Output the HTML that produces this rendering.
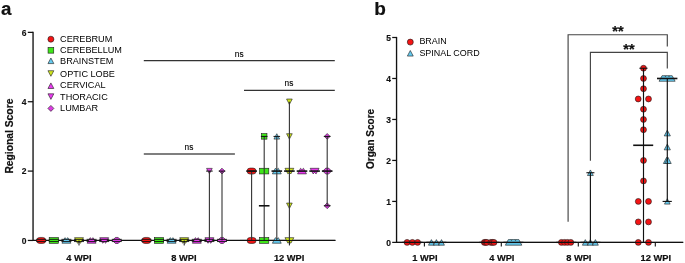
<!DOCTYPE html>
<html><head><meta charset="utf-8"><style>
html,body{margin:0;padding:0;background:#fff;}
svg{display:block;will-change:transform;}
text{font-family:"Liberation Sans", sans-serif;}
</style></head><body>
<svg width="685" height="263" viewBox="0 0 685 263">
<rect width="685" height="263" fill="#fff"/>
<text x="0.96" y="14.60" font-size="18.7" font-weight="bold" text-anchor="start" fill="#111"  stroke="#000" stroke-width="0.18">a</text>
<text x="374.20" y="14.70" font-size="19" font-weight="bold" text-anchor="start" fill="#111"  stroke="#000" stroke-width="0.18">b</text>
<line x1="33.05" y1="31.77" x2="33.05" y2="241.05" stroke="#111" stroke-width="1.35"/>
<line x1="27.80" y1="240.45" x2="33.05" y2="240.45" stroke="#111" stroke-width="1.25"/>
<text transform="translate(26.50,243.75) scale(0.86,1)" x="0" y="0" font-size="9.9" font-weight="bold" text-anchor="end" fill="#111" stroke="#000" stroke-width="0.15">0</text>
<line x1="27.80" y1="171.09" x2="33.05" y2="171.09" stroke="#111" stroke-width="1.25"/>
<text transform="translate(26.50,174.39) scale(0.86,1)" x="0" y="0" font-size="9.9" font-weight="bold" text-anchor="end" fill="#111" stroke="#000" stroke-width="0.15">2</text>
<line x1="27.80" y1="101.73" x2="33.05" y2="101.73" stroke="#111" stroke-width="1.25"/>
<text transform="translate(26.50,105.03) scale(0.86,1)" x="0" y="0" font-size="9.9" font-weight="bold" text-anchor="end" fill="#111" stroke="#000" stroke-width="0.15">4</text>
<line x1="27.80" y1="32.37" x2="33.05" y2="32.37" stroke="#111" stroke-width="1.25"/>
<text transform="translate(26.50,35.67) scale(0.86,1)" x="0" y="0" font-size="9.9" font-weight="bold" text-anchor="end" fill="#111" stroke="#000" stroke-width="0.15">6</text>
<line x1="33.05" y1="240.45" x2="335.40" y2="240.45" stroke="#111" stroke-width="1.3"/>
<text x="0.00" y="0.00" font-size="10.3" font-weight="bold" text-anchor="middle" fill="#111" transform="translate(13.1,136.1) rotate(-90)" stroke="#000" stroke-width="0.18">Regional Score</text>
<text x="78.90" y="261.30" font-size="9.3" font-weight="bold" text-anchor="middle" fill="#111"  stroke="#000" stroke-width="0.18">4 WPI</text>
<text x="183.90" y="261.30" font-size="9.3" font-weight="bold" text-anchor="middle" fill="#111"  stroke="#000" stroke-width="0.18">8 WPI</text>
<text x="289.15" y="261.30" font-size="9.3" font-weight="bold" text-anchor="middle" fill="#111"  stroke="#000" stroke-width="0.18">12 WPI</text>
<line x1="143.80" y1="60.70" x2="334.80" y2="60.70" stroke="#333" stroke-width="1.25"/>
<text x="239.20" y="56.80" font-size="8.3" font-weight="normal" text-anchor="middle" fill="#000" stroke="#000" stroke-width="0.12">ns</text>
<line x1="244.00" y1="90.40" x2="334.80" y2="90.40" stroke="#333" stroke-width="1.25"/>
<text x="289.00" y="86.10" font-size="8.3" font-weight="normal" text-anchor="middle" fill="#000" stroke="#000" stroke-width="0.12">ns</text>
<line x1="143.80" y1="154.00" x2="234.90" y2="154.00" stroke="#555" stroke-width="1.3"/>
<text x="189.00" y="149.80" font-size="8.3" font-weight="normal" text-anchor="middle" fill="#000" stroke="#000" stroke-width="0.12">ns</text>
<rect x="36.70" y="237.45" width="9" height="6" rx="3" ry="3" fill="#f41414" stroke="#1a1a1a" stroke-width="0.6"/>
<line x1="36.20" y1="239.35" x2="46.20" y2="239.35" stroke="#111" stroke-width="0.9"/>
<line x1="36.20" y1="241.55" x2="46.20" y2="241.55" stroke="#111" stroke-width="0.9"/>
<rect x="49.20" y="237.60" width="9.2" height="5.7" fill="#3fe619" stroke="#1a1a1a" stroke-width="0.6"/>
<line x1="48.80" y1="239.35" x2="58.80" y2="239.35" stroke="#111" stroke-width="0.9"/>
<line x1="48.80" y1="241.55" x2="58.80" y2="241.55" stroke="#111" stroke-width="0.9"/>
<polygon points="61.96,243.24 64.90,237.66 66.40,239.08 67.90,237.66 70.84,243.24" fill="#66cbf0" stroke="#1a1a1a" stroke-width="0.6" stroke-linejoin="round"/>
<line x1="61.40" y1="239.35" x2="71.40" y2="239.35" stroke="#111" stroke-width="0.9"/>
<line x1="61.40" y1="241.55" x2="71.40" y2="241.55" stroke="#111" stroke-width="0.9"/>
<polygon points="74.56,237.66 83.44,237.66 80.50,243.24 79.00,241.82 77.50,243.24" fill="#cfe61e" stroke="#1a1a1a" stroke-width="0.6" stroke-linejoin="round"/>
<line x1="79.00" y1="240.45" x2="79.00" y2="245.45" stroke="#111" stroke-width="1.0"/>
<line x1="74.00" y1="239.35" x2="84.00" y2="239.35" stroke="#111" stroke-width="0.9"/>
<line x1="74.00" y1="241.55" x2="84.00" y2="241.55" stroke="#111" stroke-width="0.9"/>
<polygon points="87.16,243.24 90.10,237.66 91.60,239.08 93.10,237.66 96.04,243.24" fill="#ea3cf0" stroke="#1a1a1a" stroke-width="0.6" stroke-linejoin="round"/>
<line x1="86.60" y1="239.35" x2="96.60" y2="239.35" stroke="#111" stroke-width="0.9"/>
<line x1="86.60" y1="241.55" x2="96.60" y2="241.55" stroke="#111" stroke-width="0.9"/>
<polygon points="99.76,237.66 108.64,237.66 105.70,243.24 104.20,241.82 102.70,243.24" fill="#ea3cf0" stroke="#1a1a1a" stroke-width="0.6" stroke-linejoin="round"/>
<line x1="99.20" y1="239.35" x2="109.20" y2="239.35" stroke="#111" stroke-width="0.9"/>
<line x1="99.20" y1="241.55" x2="109.20" y2="241.55" stroke="#111" stroke-width="0.9"/>
<polygon points="112.40,240.45 115.40,237.45 118.20,237.45 121.20,240.45 118.20,243.45 115.40,243.45" fill="#dc3ce2" stroke="#1a1a1a" stroke-width="0.6" stroke-linejoin="round"/>
<line x1="111.80" y1="239.35" x2="121.80" y2="239.35" stroke="#111" stroke-width="0.9"/>
<line x1="111.80" y1="241.55" x2="121.80" y2="241.55" stroke="#111" stroke-width="0.9"/>
<rect x="141.90" y="237.45" width="9" height="6" rx="3" ry="3" fill="#f41414" stroke="#1a1a1a" stroke-width="0.6"/>
<line x1="141.40" y1="239.35" x2="151.40" y2="239.35" stroke="#111" stroke-width="0.9"/>
<line x1="141.40" y1="241.55" x2="151.40" y2="241.55" stroke="#111" stroke-width="0.9"/>
<rect x="154.40" y="237.60" width="9.2" height="5.7" fill="#3fe619" stroke="#1a1a1a" stroke-width="0.6"/>
<line x1="154.00" y1="239.35" x2="164.00" y2="239.35" stroke="#111" stroke-width="0.9"/>
<line x1="154.00" y1="241.55" x2="164.00" y2="241.55" stroke="#111" stroke-width="0.9"/>
<polygon points="167.16,243.24 170.10,237.66 171.60,239.08 173.10,237.66 176.04,243.24" fill="#66cbf0" stroke="#1a1a1a" stroke-width="0.6" stroke-linejoin="round"/>
<line x1="166.60" y1="239.35" x2="176.60" y2="239.35" stroke="#111" stroke-width="0.9"/>
<line x1="166.60" y1="241.55" x2="176.60" y2="241.55" stroke="#111" stroke-width="0.9"/>
<polygon points="179.76,237.66 188.64,237.66 185.70,243.24 184.20,241.82 182.70,243.24" fill="#cfe61e" stroke="#1a1a1a" stroke-width="0.6" stroke-linejoin="round"/>
<line x1="184.20" y1="240.45" x2="184.20" y2="245.45" stroke="#111" stroke-width="1.0"/>
<line x1="179.20" y1="239.35" x2="189.20" y2="239.35" stroke="#111" stroke-width="0.9"/>
<line x1="179.20" y1="241.55" x2="189.20" y2="241.55" stroke="#111" stroke-width="0.9"/>
<polygon points="192.36,243.24 195.30,237.66 196.80,239.08 198.30,237.66 201.24,243.24" fill="#ea3cf0" stroke="#1a1a1a" stroke-width="0.6" stroke-linejoin="round"/>
<line x1="191.80" y1="239.35" x2="201.80" y2="239.35" stroke="#111" stroke-width="0.9"/>
<line x1="191.80" y1="241.55" x2="201.80" y2="241.55" stroke="#111" stroke-width="0.9"/>
<polygon points="204.96,237.66 213.84,237.66 210.90,243.24 209.40,241.82 207.90,243.24" fill="#ea3cf0" stroke="#1a1a1a" stroke-width="0.6" stroke-linejoin="round"/>
<polygon points="209.40,173.79 212.24,168.39 206.56,168.39" fill="#ea3cf0" stroke="#1a1a1a" stroke-width="0.6" stroke-linejoin="round"/>
<line x1="209.40" y1="240.45" x2="209.40" y2="171.09" stroke="#333" stroke-width="1.1"/>
<line x1="206.10" y1="171.09" x2="212.70" y2="171.09" stroke="#111" stroke-width="1.0"/>
<line x1="204.40" y1="239.35" x2="214.40" y2="239.35" stroke="#111" stroke-width="0.9"/>
<line x1="204.40" y1="241.55" x2="214.40" y2="241.55" stroke="#111" stroke-width="0.9"/>
<polygon points="217.60,240.45 220.60,237.45 223.40,237.45 226.40,240.45 223.40,243.45 220.60,243.45" fill="#dc3ce2" stroke="#1a1a1a" stroke-width="0.6" stroke-linejoin="round"/>
<polygon points="222.00,168.19 224.90,171.09 222.00,173.99 219.10,171.09" fill="#dc3ce2" stroke="#1a1a1a" stroke-width="0.6"/>
<line x1="222.00" y1="240.45" x2="222.00" y2="171.09" stroke="#333" stroke-width="1.1"/>
<line x1="218.70" y1="171.09" x2="225.30" y2="171.09" stroke="#111" stroke-width="1.0"/>
<line x1="217.00" y1="239.35" x2="227.00" y2="239.35" stroke="#111" stroke-width="0.9"/>
<line x1="217.00" y1="241.55" x2="227.00" y2="241.55" stroke="#111" stroke-width="0.9"/>
<rect x="247.10" y="168.09" width="9" height="6" rx="3" ry="3" fill="#f41414" stroke="#1a1a1a" stroke-width="0.6"/>
<rect x="247.10" y="237.45" width="9" height="6" rx="3" ry="3" fill="#f41414" stroke="#1a1a1a" stroke-width="0.6"/>
<line x1="251.60" y1="240.45" x2="251.60" y2="171.09" stroke="#333" stroke-width="1.1"/>
<line x1="248.30" y1="171.09" x2="254.90" y2="171.09" stroke="#111" stroke-width="1.0"/>
<line x1="246.30" y1="171.09" x2="256.90" y2="171.09" stroke="#111" stroke-width="1.6"/>
<rect x="261.44" y="133.66" width="5.51" height="5.51" fill="#3fe619" stroke="#1a1a1a" stroke-width="0.6"/>
<rect x="259.60" y="168.24" width="9.2" height="5.7" fill="#3fe619" stroke="#1a1a1a" stroke-width="0.6"/>
<rect x="259.60" y="237.60" width="9.2" height="5.7" fill="#3fe619" stroke="#1a1a1a" stroke-width="0.6"/>
<line x1="264.20" y1="240.45" x2="264.20" y2="136.41" stroke="#333" stroke-width="1.1"/>
<line x1="260.90" y1="136.41" x2="267.50" y2="136.41" stroke="#111" stroke-width="1.0"/>
<line x1="258.90" y1="205.77" x2="269.50" y2="205.77" stroke="#111" stroke-width="1.6"/>
<polygon points="276.80,133.71 279.64,139.11 273.96,139.11" fill="#66cbf0" stroke="#1a1a1a" stroke-width="0.6" stroke-linejoin="round"/>
<polygon points="272.36,173.88 275.30,168.30 276.80,169.72 278.30,168.30 281.24,173.88" fill="#66cbf0" stroke="#1a1a1a" stroke-width="0.6" stroke-linejoin="round"/>
<polygon points="272.36,243.24 275.30,237.66 276.80,239.08 278.30,237.66 281.24,243.24" fill="#66cbf0" stroke="#1a1a1a" stroke-width="0.6" stroke-linejoin="round"/>
<line x1="276.80" y1="240.45" x2="276.80" y2="136.41" stroke="#333" stroke-width="1.1"/>
<line x1="273.50" y1="136.41" x2="280.10" y2="136.41" stroke="#111" stroke-width="1.0"/>
<line x1="271.50" y1="171.09" x2="282.10" y2="171.09" stroke="#111" stroke-width="1.6"/>
<polygon points="289.40,104.43 292.24,99.03 286.56,99.03" fill="#cfe61e" stroke="#1a1a1a" stroke-width="0.6" stroke-linejoin="round"/>
<polygon points="289.40,139.11 292.24,133.71 286.56,133.71" fill="#cfe61e" stroke="#1a1a1a" stroke-width="0.6" stroke-linejoin="round"/>
<polygon points="284.96,168.30 293.84,168.30 290.90,173.88 289.40,172.46 287.90,173.88" fill="#cfe61e" stroke="#1a1a1a" stroke-width="0.6" stroke-linejoin="round"/>
<polygon points="289.40,208.47 292.24,203.07 286.56,203.07" fill="#cfe61e" stroke="#1a1a1a" stroke-width="0.6" stroke-linejoin="round"/>
<polygon points="284.96,237.66 293.84,237.66 290.90,243.24 289.40,241.82 287.90,243.24" fill="#cfe61e" stroke="#1a1a1a" stroke-width="0.6" stroke-linejoin="round"/>
<line x1="289.40" y1="240.45" x2="289.40" y2="101.73" stroke="#333" stroke-width="1.1"/>
<line x1="289.40" y1="240.45" x2="289.40" y2="245.45" stroke="#111" stroke-width="1.0"/>
<line x1="284.10" y1="171.09" x2="294.70" y2="171.09" stroke="#111" stroke-width="1.6"/>
<polygon points="297.56,173.88 300.50,168.30 302.00,169.72 303.50,168.30 306.44,173.88" fill="#ea3cf0" stroke="#1a1a1a" stroke-width="0.6" stroke-linejoin="round"/>
<line x1="296.70" y1="171.09" x2="307.30" y2="171.09" stroke="#111" stroke-width="1.6"/>
<polygon points="310.16,168.30 319.04,168.30 316.10,173.88 314.60,172.46 313.10,173.88" fill="#ea3cf0" stroke="#1a1a1a" stroke-width="0.6" stroke-linejoin="round"/>
<line x1="309.30" y1="171.09" x2="319.90" y2="171.09" stroke="#111" stroke-width="1.6"/>
<polygon points="327.20,133.51 330.10,136.41 327.20,139.31 324.30,136.41" fill="#dc3ce2" stroke="#1a1a1a" stroke-width="0.6"/>
<polygon points="322.80,171.09 325.80,168.09 328.60,168.09 331.60,171.09 328.60,174.09 325.80,174.09" fill="#dc3ce2" stroke="#1a1a1a" stroke-width="0.6" stroke-linejoin="round"/>
<polygon points="327.20,202.87 330.10,205.77 327.20,208.67 324.30,205.77" fill="#dc3ce2" stroke="#1a1a1a" stroke-width="0.6"/>
<line x1="327.20" y1="205.77" x2="327.20" y2="136.41" stroke="#333" stroke-width="1.1"/>
<line x1="323.90" y1="205.77" x2="330.50" y2="205.77" stroke="#111" stroke-width="1.0"/>
<line x1="323.90" y1="136.41" x2="330.50" y2="136.41" stroke="#111" stroke-width="1.0"/>
<line x1="321.90" y1="171.09" x2="332.50" y2="171.09" stroke="#111" stroke-width="1.6"/>
<circle cx="50.90" cy="39.20" r="3.00" fill="#f41414" stroke="#1a1a1a" stroke-width="0.6"/>
<text x="60.10" y="41.70" font-size="9.15" font-weight="normal" text-anchor="start" fill="#000" >CEREBRUM</text>
<rect x="48.05" y="47.45" width="5.70" height="5.70" fill="#3fe619" stroke="#1a1a1a" stroke-width="0.6"/>
<text x="60.10" y="53.10" font-size="9.15" font-weight="normal" text-anchor="start" fill="#000" >CEREBELLUM</text>
<polygon points="50.90,58.01 53.84,63.59 47.96,63.59" fill="#66cbf0" stroke="#1a1a1a" stroke-width="0.6" stroke-linejoin="round"/>
<text x="60.10" y="64.00" font-size="9.15" font-weight="normal" text-anchor="start" fill="#000" >BRAINSTEM</text>
<polygon points="50.90,76.29 53.84,70.71 47.96,70.71" fill="#cfe61e" stroke="#1a1a1a" stroke-width="0.6" stroke-linejoin="round"/>
<text x="60.10" y="76.50" font-size="9.15" font-weight="normal" text-anchor="start" fill="#000" >OPTIC LOBE</text>
<polygon points="50.90,82.91 53.84,88.49 47.96,88.49" fill="#ea3cf0" stroke="#1a1a1a" stroke-width="0.6" stroke-linejoin="round"/>
<text x="60.10" y="88.30" font-size="9.15" font-weight="normal" text-anchor="start" fill="#000" >CERVICAL</text>
<polygon points="50.90,99.39 53.84,93.81 47.96,93.81" fill="#ea3cf0" stroke="#1a1a1a" stroke-width="0.6" stroke-linejoin="round"/>
<text x="60.10" y="99.90" font-size="9.15" font-weight="normal" text-anchor="start" fill="#000" >THORACIC</text>
<polygon points="50.90,105.40 53.90,108.40 50.90,111.40 47.90,108.40" fill="#dc3ce2" stroke="#1a1a1a" stroke-width="0.6"/>
<text x="60.10" y="111.30" font-size="9.15" font-weight="normal" text-anchor="start" fill="#000" >LUMBAR</text>
<line x1="396.55" y1="36.90" x2="396.55" y2="243.00" stroke="#111" stroke-width="1.35"/>
<line x1="392.20" y1="242.40" x2="396.55" y2="242.40" stroke="#111" stroke-width="1.25"/>
<text transform="translate(391.00,245.70) scale(0.86,1)" x="0" y="0" font-size="9.9" font-weight="bold" text-anchor="end" fill="#111" stroke="#000" stroke-width="0.15">0</text>
<line x1="392.20" y1="201.42" x2="396.55" y2="201.42" stroke="#111" stroke-width="1.25"/>
<text transform="translate(391.00,204.72) scale(0.86,1)" x="0" y="0" font-size="9.9" font-weight="bold" text-anchor="end" fill="#111" stroke="#000" stroke-width="0.15">1</text>
<line x1="392.20" y1="160.44" x2="396.55" y2="160.44" stroke="#111" stroke-width="1.25"/>
<text transform="translate(391.00,163.74) scale(0.86,1)" x="0" y="0" font-size="9.9" font-weight="bold" text-anchor="end" fill="#111" stroke="#000" stroke-width="0.15">2</text>
<line x1="392.20" y1="119.46" x2="396.55" y2="119.46" stroke="#111" stroke-width="1.25"/>
<text transform="translate(391.00,122.76) scale(0.86,1)" x="0" y="0" font-size="9.9" font-weight="bold" text-anchor="end" fill="#111" stroke="#000" stroke-width="0.15">3</text>
<line x1="392.20" y1="78.48" x2="396.55" y2="78.48" stroke="#111" stroke-width="1.25"/>
<text transform="translate(391.00,81.78) scale(0.86,1)" x="0" y="0" font-size="9.9" font-weight="bold" text-anchor="end" fill="#111" stroke="#000" stroke-width="0.15">4</text>
<line x1="392.20" y1="37.50" x2="396.55" y2="37.50" stroke="#111" stroke-width="1.25"/>
<text transform="translate(391.00,40.80) scale(0.86,1)" x="0" y="0" font-size="9.9" font-weight="bold" text-anchor="end" fill="#111" stroke="#000" stroke-width="0.15">5</text>
<line x1="396.55" y1="242.40" x2="683.20" y2="242.40" stroke="#111" stroke-width="1.35"/>
<text x="0.00" y="0.00" font-size="10" font-weight="bold" text-anchor="middle" fill="#111" transform="translate(373.8,138.9) rotate(-90)" stroke="#000" stroke-width="0.18">Organ Score</text>
<line x1="424.40" y1="242.40" x2="424.40" y2="246.60" stroke="#111" stroke-width="1.1"/>
<text x="424.90" y="261.30" font-size="9.3" font-weight="bold" text-anchor="middle" fill="#111"  stroke="#000" stroke-width="0.18">1 WPI</text>
<line x1="501.30" y1="242.40" x2="501.30" y2="246.60" stroke="#111" stroke-width="1.1"/>
<text x="501.80" y="261.30" font-size="9.3" font-weight="bold" text-anchor="middle" fill="#111"  stroke="#000" stroke-width="0.18">4 WPI</text>
<line x1="578.30" y1="242.40" x2="578.30" y2="246.60" stroke="#111" stroke-width="1.1"/>
<text x="578.80" y="261.30" font-size="9.3" font-weight="bold" text-anchor="middle" fill="#111"  stroke="#000" stroke-width="0.18">8 WPI</text>
<line x1="655.30" y1="242.40" x2="655.30" y2="246.60" stroke="#111" stroke-width="1.1"/>
<text x="655.80" y="261.30" font-size="9.3" font-weight="bold" text-anchor="middle" fill="#111"  stroke="#000" stroke-width="0.18">12 WPI</text>
<polyline points="568.1,221.8 568.1,34.7 667.3,34.7 667.3,46.6" fill="none" stroke="#444" stroke-width="1.15"/>
<polyline points="590.4,160.8 590.4,52.4 667.3,52.4 667.3,68.4" fill="none" stroke="#444" stroke-width="1.15"/>
<text x="617.90" y="36.00" font-size="14.5" font-weight="bold" text-anchor="middle" fill="#111"  stroke="#000" stroke-width="0.18">**</text>
<text x="628.90" y="53.80" font-size="14.5" font-weight="bold" text-anchor="middle" fill="#111"  stroke="#000" stroke-width="0.18">**</text>
<circle cx="407.10" cy="242.40" r="2.95" fill="#f41414" stroke="#1a1a1a" stroke-width="0.6"/>
<circle cx="412.40" cy="242.40" r="2.95" fill="#f41414" stroke="#1a1a1a" stroke-width="0.6"/>
<circle cx="417.60" cy="242.40" r="2.95" fill="#f41414" stroke="#1a1a1a" stroke-width="0.6"/>
<polygon points="431.40,239.61 434.34,245.19 428.46,245.19" fill="#66cbf0" stroke="#1a1a1a" stroke-width="0.6" stroke-linejoin="round"/>
<polygon points="436.40,239.61 439.34,245.19 433.46,245.19" fill="#66cbf0" stroke="#1a1a1a" stroke-width="0.6" stroke-linejoin="round"/>
<polygon points="441.50,239.61 444.44,245.19 438.56,245.19" fill="#66cbf0" stroke="#1a1a1a" stroke-width="0.6" stroke-linejoin="round"/>
<line x1="402.40" y1="242.40" x2="422.40" y2="242.40" stroke="#111" stroke-width="1.3"/>
<line x1="426.40" y1="242.40" x2="446.40" y2="242.40" stroke="#111" stroke-width="1.3"/>
<circle cx="484.30" cy="242.40" r="2.95" fill="#f41414" stroke="#1a1a1a" stroke-width="0.6"/>
<circle cx="485.60" cy="242.40" r="2.95" fill="#f41414" stroke="#1a1a1a" stroke-width="0.6"/>
<circle cx="486.90" cy="242.40" r="2.95" fill="#f41414" stroke="#1a1a1a" stroke-width="0.6"/>
<circle cx="490.80" cy="242.40" r="2.95" fill="#f41414" stroke="#1a1a1a" stroke-width="0.6"/>
<circle cx="492.40" cy="242.40" r="2.95" fill="#f41414" stroke="#1a1a1a" stroke-width="0.6"/>
<circle cx="494.00" cy="242.40" r="2.95" fill="#f41414" stroke="#1a1a1a" stroke-width="0.6"/>
<polygon points="505.36,245.19 508.30,239.61 518.90,239.61 521.84,245.19" fill="#66cbf0" stroke="#1a1a1a" stroke-width="0.6" stroke-linejoin="round"/><polyline points="510.90,239.61 511.50,240.71 512.10,239.61" fill="none" stroke="#1a1a1a" stroke-width="0.5"/><polyline points="514.90,239.61 515.50,240.71 516.10,239.61" fill="none" stroke="#1a1a1a" stroke-width="0.5"/>
<line x1="479.30" y1="242.40" x2="499.30" y2="242.40" stroke="#111" stroke-width="1.3"/>
<line x1="503.40" y1="242.40" x2="523.40" y2="242.40" stroke="#111" stroke-width="1.3"/>
<circle cx="561.40" cy="242.40" r="2.95" fill="#f41414" stroke="#1a1a1a" stroke-width="0.6"/>
<circle cx="564.50" cy="242.40" r="2.95" fill="#f41414" stroke="#1a1a1a" stroke-width="0.6"/>
<circle cx="567.50" cy="242.40" r="2.95" fill="#f41414" stroke="#1a1a1a" stroke-width="0.6"/>
<circle cx="570.80" cy="242.40" r="2.95" fill="#f41414" stroke="#1a1a1a" stroke-width="0.6"/>
<polygon points="585.30,239.61 588.24,245.19 582.36,245.19" fill="#66cbf0" stroke="#1a1a1a" stroke-width="0.6" stroke-linejoin="round"/>
<polygon points="590.40,239.61 593.34,245.19 587.46,245.19" fill="#66cbf0" stroke="#1a1a1a" stroke-width="0.6" stroke-linejoin="round"/>
<polygon points="595.40,239.61 598.34,245.19 592.46,245.19" fill="#66cbf0" stroke="#1a1a1a" stroke-width="0.6" stroke-linejoin="round"/>
<polygon points="590.40,169.94 593.34,175.52 587.46,175.52" fill="#66cbf0" stroke="#1a1a1a" stroke-width="0.6" stroke-linejoin="round"/>
<line x1="590.40" y1="242.40" x2="590.40" y2="172.73" stroke="#111" stroke-width="1.15"/>
<line x1="586.40" y1="172.73" x2="594.40" y2="172.73" stroke="#111" stroke-width="1.1"/>
<line x1="556.30" y1="242.40" x2="576.30" y2="242.40" stroke="#111" stroke-width="1.3"/>
<line x1="580.40" y1="242.40" x2="600.40" y2="242.40" stroke="#111" stroke-width="1.3"/>
<circle cx="643.50" cy="68.24" r="2.95" fill="#f41414" stroke="#1a1a1a" stroke-width="0.6"/>
<circle cx="643.50" cy="78.48" r="2.95" fill="#f41414" stroke="#1a1a1a" stroke-width="0.6"/>
<circle cx="643.50" cy="88.73" r="2.95" fill="#f41414" stroke="#1a1a1a" stroke-width="0.6"/>
<circle cx="638.20" cy="98.97" r="2.95" fill="#f41414" stroke="#1a1a1a" stroke-width="0.6"/>
<circle cx="648.50" cy="98.97" r="2.95" fill="#f41414" stroke="#1a1a1a" stroke-width="0.6"/>
<circle cx="643.50" cy="109.22" r="2.95" fill="#f41414" stroke="#1a1a1a" stroke-width="0.6"/>
<circle cx="643.50" cy="119.46" r="2.95" fill="#f41414" stroke="#1a1a1a" stroke-width="0.6"/>
<circle cx="643.50" cy="129.71" r="2.95" fill="#f41414" stroke="#1a1a1a" stroke-width="0.6"/>
<circle cx="643.50" cy="160.44" r="2.95" fill="#f41414" stroke="#1a1a1a" stroke-width="0.6"/>
<circle cx="643.50" cy="180.93" r="2.95" fill="#f41414" stroke="#1a1a1a" stroke-width="0.6"/>
<circle cx="638.30" cy="201.42" r="2.95" fill="#f41414" stroke="#1a1a1a" stroke-width="0.6"/>
<circle cx="648.50" cy="201.42" r="2.95" fill="#f41414" stroke="#1a1a1a" stroke-width="0.6"/>
<circle cx="638.30" cy="221.91" r="2.95" fill="#f41414" stroke="#1a1a1a" stroke-width="0.6"/>
<circle cx="648.50" cy="221.91" r="2.95" fill="#f41414" stroke="#1a1a1a" stroke-width="0.6"/>
<circle cx="638.30" cy="242.40" r="2.95" fill="#f41414" stroke="#1a1a1a" stroke-width="0.6"/>
<circle cx="648.50" cy="242.40" r="2.95" fill="#f41414" stroke="#1a1a1a" stroke-width="0.6"/>
<line x1="643.50" y1="242.40" x2="643.50" y2="68.24" stroke="#111" stroke-width="1.15"/>
<line x1="639.40" y1="68.24" x2="647.50" y2="68.24" stroke="#111" stroke-width="1.1"/>
<line x1="633.20" y1="145.28" x2="653.20" y2="145.28" stroke="#111" stroke-width="1.6"/>
<polygon points="659.06,81.27 662.00,75.69 672.20,75.69 675.14,81.27" fill="#66cbf0" stroke="#1a1a1a" stroke-width="0.6" stroke-linejoin="round"/><polyline points="664.90,75.69 665.50,76.79 666.10,75.69" fill="none" stroke="#1a1a1a" stroke-width="0.5"/><polyline points="668.40,75.69 669.00,76.79 669.60,75.69" fill="none" stroke="#1a1a1a" stroke-width="0.5"/>
<polygon points="667.30,130.05 670.39,135.91 664.21,135.91" fill="#66cbf0" stroke="#1a1a1a" stroke-width="0.6" stroke-linejoin="round"/>
<polygon points="667.30,143.99 670.39,149.85 664.21,149.85" fill="#66cbf0" stroke="#1a1a1a" stroke-width="0.6" stroke-linejoin="round"/>
<polygon points="666.60,157.37 669.83,163.51 663.37,163.51" fill="#66cbf0" stroke="#1a1a1a" stroke-width="0.6" stroke-linejoin="round"/>
<polygon points="668.00,157.37 671.23,163.51 664.77,163.51" fill="#66cbf0" stroke="#1a1a1a" stroke-width="0.6" stroke-linejoin="round"/>
<polygon points="667.30,198.72 670.14,204.12 664.46,204.12" fill="#66cbf0" stroke="#1a1a1a" stroke-width="0.6" stroke-linejoin="round"/>
<line x1="667.30" y1="201.42" x2="667.30" y2="78.48" stroke="#111" stroke-width="1.15"/>
<line x1="662.60" y1="201.42" x2="671.80" y2="201.42" stroke="#111" stroke-width="1.1"/>
<line x1="657.00" y1="78.48" x2="677.40" y2="78.48" stroke="#111" stroke-width="1.6"/>
<line x1="240.00" y1="240.45" x2="335.40" y2="240.45" stroke="#111" stroke-width="1.0"/>
<line x1="396.55" y1="242.40" x2="683.20" y2="242.40" stroke="#111" stroke-width="1.0"/>
<circle cx="410.30" cy="42.10" r="3.00" fill="#f41414" stroke="#1a1a1a" stroke-width="0.6"/>
<text x="419.40" y="44.20" font-size="8.95" font-weight="normal" text-anchor="start" fill="#000" >BRAIN</text>
<polygon points="410.30,50.51 413.24,56.09 407.36,56.09" fill="#66cbf0" stroke="#1a1a1a" stroke-width="0.6" stroke-linejoin="round"/>
<text x="419.40" y="56.00" font-size="8.95" font-weight="normal" text-anchor="start" fill="#000" >SPINAL CORD</text>
</svg>
</body></html>
